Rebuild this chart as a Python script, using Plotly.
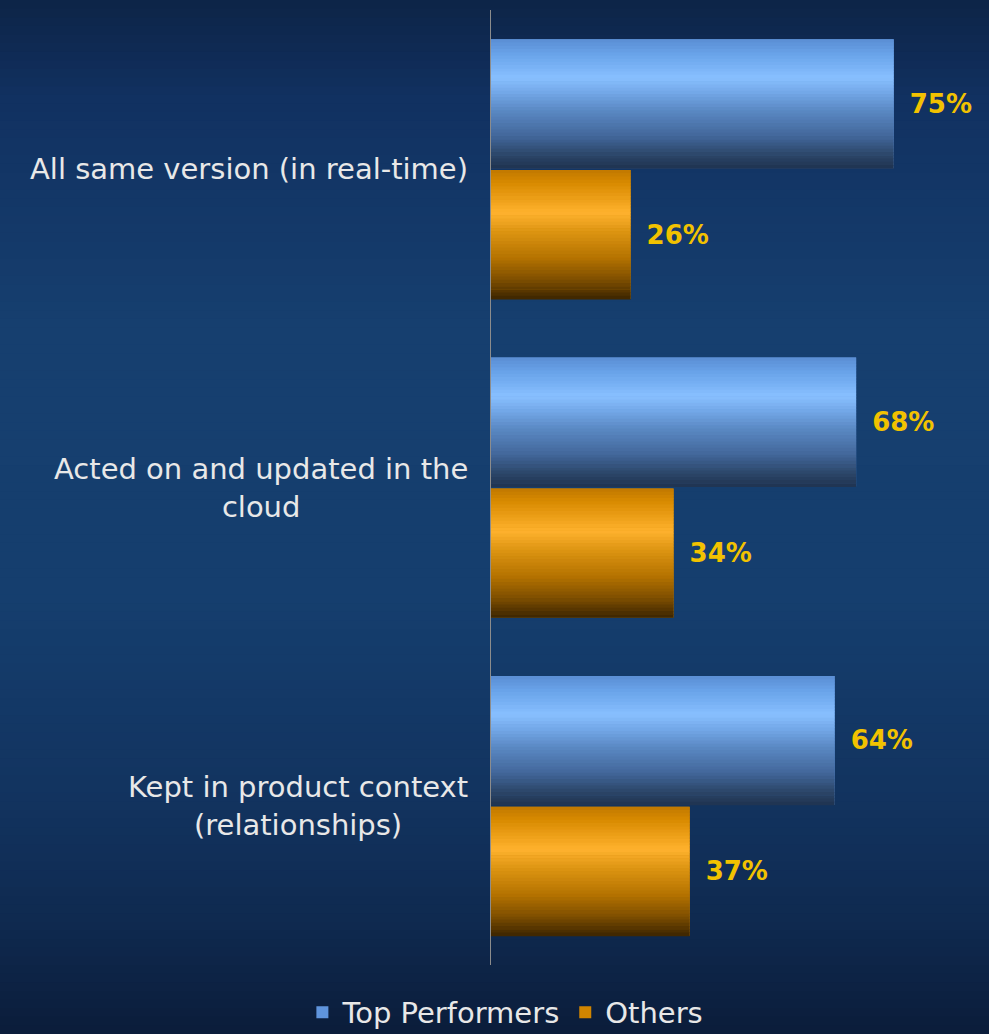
import plotly.graph_objects as go

# ---- data ----
categories = ["All same version (in real-time)",
              "Acted on and updated in the cloud",
              "Kept in product context (relationships)"]
category_labels = ["All same version (in real-time)",
                   "Acted on and updated in the<br>cloud",
                   "Kept in product context<br>(relationships)"]
series_names = ["Top Performers", "Others"]
top_performers = [75, 68, 64]
others = [26, 34, 37]

# ---- styling ----
W, H = 989, 1034
L, R, T, B = 491, 4, 10, 69
FONT = "DejaVu Sans"

def hex2rgb(h):
    h = h.lstrip("#")
    return tuple(int(h[i:i + 2], 16) for i in (0, 2, 4))

def interp(stops, t):
    for (t0, c0), (t1, c1) in zip(stops[:-1], stops[1:]):
        if t0 <= t <= t1:
            f = (t - t0) / (t1 - t0) if t1 > t0 else 0
            a, b = hex2rgb(c0), hex2rgb(c1)
            return "rgb(%d,%d,%d)" % tuple(round(a[k] + (b[k] - a[k]) * f) for k in range(3))
    return "rgb(%d,%d,%d)" % hex2rgb(stops[-1][1])

blue_stops = [(0, "#5a8ed4"), (0.12, "#6aa4ea"), (0.3, "#88c0ff"), (0.42, "#72a6e6"),
              (0.55, "#5b89c4"), (0.75, "#42679a"), (0.9, "#2b4568"), (1, "#1f3350")]
orange_stops = [(0, "#c07800"), (0.1, "#d88a00"), (0.33, "#ffb22e"), (0.48, "#dc9412"),
                (0.68, "#b57300"), (0.85, "#7e4e00"), (1, "#3c2500")]
bg_stops = [(0, "#0d2447"), (100, "#113161"), (330, "#163f6f"), (600, "#153e6e"),
            (800, "#12335f"), (920, "#0f2a50"), (1034, "#0b1d3a")]

BAR_W = 0.405
offsets = [-0.408, 0.003]
values = [top_performers, others]
legend_colors = ["#5f94dc", "#d08500"]
stops_list = [blue_stops, orange_stops]

fig = go.Figure()

# base traces (legend + labels)
for name, vals, off, col in zip(series_names, values, offsets, legend_colors):
    fig.add_trace(go.Bar(
        name=name, x=vals, y=categories, orientation="h",
        width=BAR_W, offset=off,
        marker=dict(color=col, line=dict(width=0)),
        text=[f"{v}%" for v in vals],
        texttemplate="\u2002%{text}",
        textposition="outside", cliponaxis=False, constraintext="none",
        textfont=dict(family=FONT, size=26, color="#f2c200", weight="bold"),
        hoverinfo="skip",
    ))

# gradient strips for cylinder shading
N = 40
for vals, off, stops in zip(values, offsets, stops_list):
    sw = BAR_W / N
    for i in range(N):
        fig.add_trace(go.Bar(
            x=vals, y=categories, orientation="h",
            width=sw + 0.0015, offset=off + i * sw,
            marker=dict(color=interp(stops, (i + 0.5) / N), line=dict(width=0)),
            showlegend=False, hoverinfo="skip",
        ))

# background gradient
plot_h = H - T - B
shapes = []
NS = 120
for i in range(NS):
    py0 = H * i / NS
    py1 = H * (i + 1) / NS + 1
    col = interp(bg_stops, (py0 + py1) / 2)
    shapes.append(dict(type="rect", xref="paper", yref="paper", layer="below",
                       x0=-1.2, x1=1.2,
                       y0=(H - B - py1) / plot_h, y1=(H - B - py0) / plot_h,
                       fillcolor=col, line=dict(width=0)))

# category labels
annotations = []
for cat, lab in zip(categories, category_labels):
    annotations.append(dict(xref="paper", x=0, xanchor="right", xshift=-21,
                            yref="y", y=cat, yanchor="middle",
                            text=lab, align="center", showarrow=False,
                            font=dict(family=FONT, size=29, color="#e8e8e8")))

fig.update_layout(
    width=W, height=H,
    margin=dict(l=L, r=R, t=T, b=B, pad=0),
    barmode="overlay",
    paper_bgcolor="#0f2a50", plot_bgcolor="rgba(0,0,0,0)",
    shapes=shapes, annotations=annotations,
    font=dict(family=FONT, color="#e8e8e8"),
    xaxis=dict(range=[0, 92], visible=False, fixedrange=True),
    yaxis=dict(type="category", categoryarray=categories, categoryorder="array",
               range=[2.5, -0.5], showticklabels=False, ticks="",
               showgrid=False, zeroline=False, fixedrange=True,
               showline=True, linecolor="#8c8c8c", linewidth=1),
    legend=dict(orientation="h", xref="container", yref="container",
                x=0.511, xanchor="center", y=0.021, yanchor="middle",
                font=dict(family=FONT, size=29, color="#e8e8e8"),
                bgcolor="rgba(0,0,0,0)", itemwidth=30),
    showlegend=True,
)

fig.write_html("out.html", config={"displayModeBar": False},
               post_script="document.body.style.margin='0';document.body.style.overflow='hidden';")
